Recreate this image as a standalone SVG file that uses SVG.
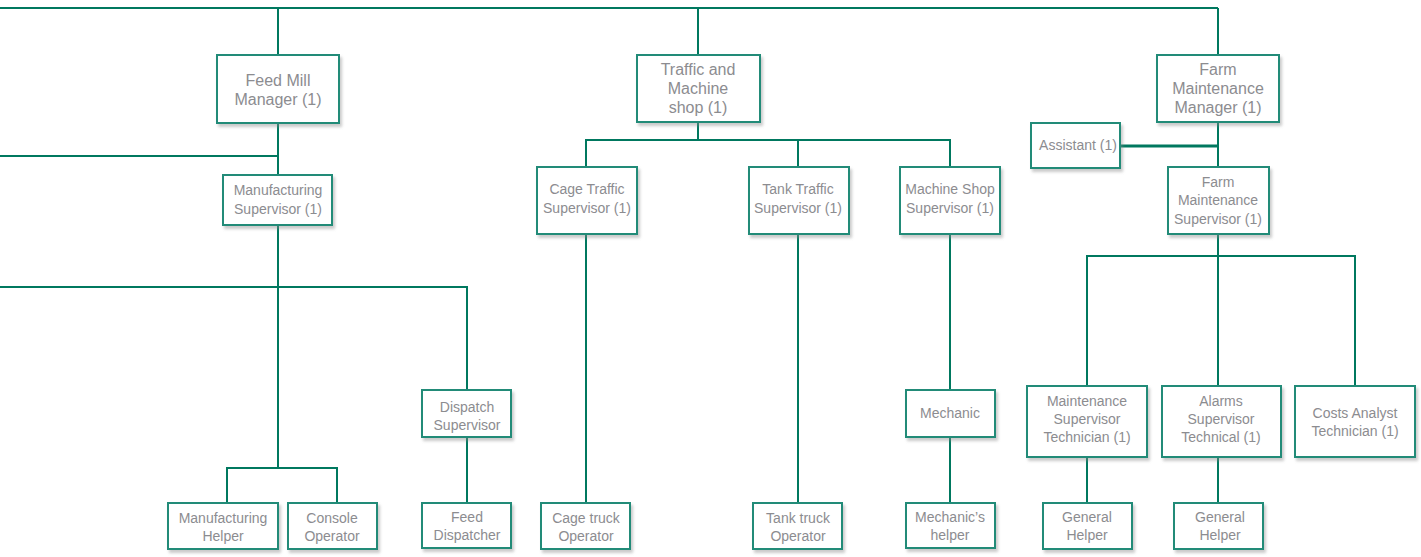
<svg xmlns="http://www.w3.org/2000/svg" width="1421" height="557" viewBox="0 0 1421 557">
<defs>
<filter id="sh" x="-10%" y="-10%" width="125%" height="130%">
<feDropShadow dx="2" dy="3" stdDeviation="1.6" flood-color="#8a8a8a" flood-opacity="0.45"/>
</filter>
</defs>
<style>
.b{fill:#fff;stroke:#238b78;stroke-width:2;filter:url(#sh)}
.i{fill:none;stroke:#d6d8d8;stroke-width:1}
.t{font-family:"Liberation Sans",Arial,sans-serif;fill:#8c8c90;text-anchor:middle}
.L{font-size:16px}
.S{font-size:14px}
.c{fill:none;stroke:#00785f;stroke-width:2}
</style>
<rect width="1421" height="557" fill="#fff"/>
<g id="connectors">
<path class="c" d="M0 8H1218M278 8V55M698 8V55M1218 8V55"/>
<path class="c" d="M278 123V175M0 156H278"/>
<path class="c" d="M278 225V468M0 287H467V390M227 503V468H337V503"/>
<path class="c" d="M698 122V140M586 167V140H950V167M798 140V167"/>
<path class="c" d="M586 234V503M798 234V503M950 234V390M950 437V503M467 437V503"/>
<path class="c" d="M1218 122V167"/>
<path class="c" style="stroke-width:3" d="M1120 146H1218"/>
<path class="c" d="M1218 234V386M1087 386V256H1355V386"/>
<path class="c" d="M1087 457V503M1218 457V503"/>
</g>
<g id="feed-mill-manager"><rect class="b" x="217" y="55" width="122" height="68"/><text class="t L" x="278" y="86">Feed Mill</text><text class="t L" x="278" y="105">Manager (1)</text></g>
<g id="traffic-machine-shop"><rect class="b" x="637" y="55" width="123" height="67"/><text class="t L" x="698" y="75">Traffic and</text><text class="t L" x="698" y="94">Machine</text><text class="t L" x="698" y="113">shop (1)</text></g>
<g id="farm-maintenance-manager"><rect class="b" x="1157" y="55" width="122" height="67"/><text class="t L" x="1218" y="75">Farm</text><text class="t L" x="1218" y="94">Maintenance</text><text class="t L" x="1218" y="113">Manager (1)</text></g>
<g id="assistant"><rect class="b" x="1031" y="123" width="89" height="45"/><text class="t S" x="1078" y="150">Assistant (1)</text></g>
<g id="farm-maintenance-supervisor"><rect class="b" x="1168" y="167" width="101" height="67"/><text class="t S" x="1218" y="187">Farm</text><text class="t S" x="1218" y="205">Maintenance</text><text class="t S" x="1218" y="224">Supervisor (1)</text></g>
<g id="manufacturing-supervisor"><rect class="b" x="223" y="175" width="109" height="50"/><text class="t S" x="278" y="195">Manufacturing</text><text class="t S" x="278" y="214">Supervisor (1)</text></g>
<g id="cage-traffic-supervisor"><rect class="b" x="537" y="167" width="100" height="67"/><text class="t S" x="587" y="194">Cage Traffic</text><text class="t S" x="587" y="213">Supervisor (1)</text></g>
<g id="tank-traffic-supervisor"><rect class="b" x="749" y="167" width="100" height="67"/><text class="t S" x="798" y="194">Tank Traffic</text><text class="t S" x="798" y="213">Supervisor (1)</text></g>
<g id="machine-shop-supervisor"><rect class="b" x="900" y="167" width="100" height="67"/><text class="t S" x="950" y="194">Machine Shop</text><text class="t S" x="950" y="213">Supervisor (1)</text></g>
<g id="dispatch-supervisor"><rect class="b" x="422" y="390" width="89" height="47"/><text class="t S" x="467" y="412">Dispatch</text><text class="t S" x="467" y="430">Supervisor</text></g>
<g id="mechanic"><rect class="b" x="906" y="390" width="89" height="47"/><text class="t S" x="950" y="418">Mechanic</text></g>
<g id="maintenance-supervisor-technician"><rect class="b" x="1027" y="386" width="120" height="71"/><text class="t S" x="1087" y="406">Maintenance</text><text class="t S" x="1087" y="424">Supervisor</text><text class="t S" x="1087" y="442">Technician (1)</text></g>
<g id="alarms-supervisor-technical"><rect class="b" x="1162" y="386" width="119" height="71"/><text class="t S" x="1221" y="406">Alarms</text><text class="t S" x="1221" y="424">Supervisor</text><text class="t S" x="1221" y="442">Technical (1)</text></g>
<g id="costs-analyst-technician"><rect class="b" x="1295" y="386" width="120" height="71"/><text class="t S" x="1355" y="418">Costs Analyst</text><text class="t S" x="1355" y="436">Technician (1)</text></g>
<g id="manufacturing-helper"><rect class="b" x="168" y="503" width="110" height="46"/><text class="t S" x="223" y="523">Manufacturing</text><text class="t S" x="223" y="541">Helper</text></g>
<g id="console-operator"><rect class="b" x="288" y="503" width="89" height="46"/><text class="t S" x="332" y="523">Console</text><text class="t S" x="332" y="541">Operator</text></g>
<g id="feed-dispatcher"><rect class="b" x="422" y="503" width="89" height="45"/><text class="t S" x="467" y="522">Feed</text><text class="t S" x="467" y="540">Dispatcher</text></g>
<g id="cage-truck-operator"><rect class="b" x="541" y="503" width="89" height="46"/><text class="t S" x="586" y="523">Cage truck</text><text class="t S" x="586" y="541">Operator</text></g>
<g id="tank-truck-operator"><rect class="b" x="753" y="503" width="89" height="46"/><text class="t S" x="798" y="523">Tank truck</text><text class="t S" x="798" y="541">Operator</text></g>
<g id="mechanics-helper"><rect class="b" x="906" y="503" width="89" height="45"/><text class="t S" x="950" y="522">Mechanic’s</text><text class="t S" x="950" y="540">helper</text></g>
<g id="general-helper-1"><rect class="b" x="1043" y="503" width="89" height="46"/><text class="t S" x="1087" y="522">General</text><text class="t S" x="1087" y="540">Helper</text></g>
<g id="general-helper-2"><rect class="b" x="1174" y="503" width="89" height="46"/><text class="t S" x="1220" y="522">General</text><text class="t S" x="1220" y="540">Helper</text></g>
</svg>
